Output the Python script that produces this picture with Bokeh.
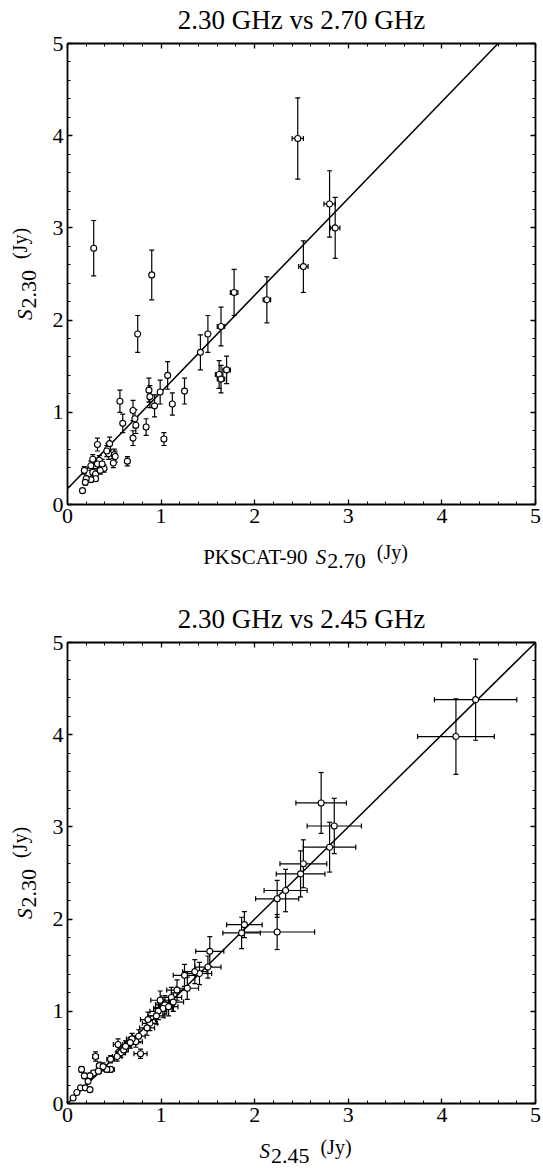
from bokeh.plotting import figure
from bokeh.models import (ColumnDataSource, Whisker, TeeHead, Label, LinearAxis,
                          SingleIntervalTicker, CustomJSTickFormatter, Range1d)
from bokeh.layouts import column
from bokeh.embed import file_html
from bokeh.resources import INLINE
import math

# ---------------- data: top panel (2.30 GHz vs PKSCAT-90 2.70 GHz) ----------------
top_title = "2.30 GHz vs 2.70 GHz"
top_s270 = [2.46, 2.80, 2.86, 2.52, 0.28, 0.90, 1.78, 2.13, 0.75, 1.50, 1.64, 1.42, 1.62, 1.64,
            1.70, 1.07, 1.25, 1.12, 0.99, 0.87, 0.88, 0.93, 0.84, 1.03, 0.56, 0.59, 0.70, 0.73,
            0.70, 0.64, 0.32, 0.45, 0.44, 0.50, 0.51, 0.49, 0.43, 0.34, 0.32, 0.27, 0.25, 0.27,
            0.30, 0.30, 0.25, 0.20, 0.19, 0.18, 0.16, 0.39, 0.37, 0.35, 0.72, 0.42]
top_s230 = [3.97, 3.26, 3.00, 2.58, 2.78, 2.49, 2.30, 2.22, 1.85, 1.85, 1.93, 1.65, 1.41, 1.36,
            1.46, 1.40, 1.23, 1.09, 1.22, 1.24, 1.17, 1.07, 0.84, 0.71, 1.12, 0.88, 1.02, 0.86,
            0.72, 0.47, 0.65, 0.66, 0.55, 0.54, 0.52, 0.45, 0.60, 0.48, 0.44, 0.49, 0.42, 0.35,
            0.33, 0.28, 0.27, 0.28, 0.24, 0.37, 0.15, 0.39, 0.44, 0.37, 0.93, 0.58]
top_xerr = [0.06, 0.06, 0.05, 0.05, 0.01, 0.02, 0.04, 0.04, 0.01, 0.02, 0.04, 0.02, 0.04, 0.04,
            0.04, 0.02, 0.02, 0.02, 0.02, 0.02, 0.02, 0.02, 0.02, 0.02, 0.01, 0.01, 0.01, 0.01,
            0.01, 0.01, 0.01, 0.01, 0.01, 0.01, 0.01, 0.01, 0.01, 0.01, 0.01, 0.01, 0.01, 0.01,
            0.01, 0.01, 0.01, 0.01, 0.01, 0.01, 0.01, 0.01, 0.01, 0.01, 0.01, 0.01]
top_yerr = [0.44, 0.36, 0.33, 0.28, 0.30, 0.27, 0.25, 0.25, 0.20, 0.20, 0.21, 0.19, 0.15, 0.15,
            0.15, 0.15, 0.14, 0.12, 0.13, 0.13, 0.12, 0.12, 0.09, 0.07, 0.12, 0.10, 0.11, 0.09,
            0.08, 0.05, 0.07, 0.07, 0.06, 0.06, 0.06, 0.05, 0.06, 0.05, 0.05, 0.05, 0.05, 0.04,
            0.04, 0.03, 0.03, 0.03, 0.03, 0.04, 0.02, 0.04, 0.05, 0.04, 0.10, 0.06]
top_fit_slope = 1.05
top_fit_intercept = 0.17

# ---------------- data: bottom panel (2.30 GHz vs 2.45 GHz) ----------------
bot_title = "2.30 GHz vs 2.45 GHz"
bot_s245 = [4.36, 4.15, 2.71, 2.85, 2.80, 2.52, 2.49, 2.33, 2.24, 2.24, 1.89, 1.86, 1.52, 1.50,
            1.41, 1.36, 1.25, 1.28, 1.17, 1.11, 1.13, 1.04, 1.02, 0.99, 0.97, 0.95, 1.08, 0.88,
            0.85, 0.86, 0.76, 0.73, 0.69, 0.67, 0.78, 0.57, 0.53, 0.54, 0.60, 0.46, 0.46, 0.42,
            0.30, 0.34, 0.28, 0.24, 0.22, 0.15, 0.18, 0.14, 0.10, 0.06, 0.19, 0.24, 0.33, 0.38, 0.62]
bot_s230 = [4.38, 3.98, 3.26, 3.01, 2.78, 2.60, 2.49, 2.31, 2.22, 1.86, 1.94, 1.85, 1.65, 1.48,
            1.41, 1.43, 1.39, 1.25, 1.23, 1.15, 1.10, 1.07, 1.03, 1.12, 1.00, 0.95, 1.05, 0.87,
            0.82, 0.91, 0.73, 0.67, 0.70, 0.66, 0.54, 0.55, 0.51, 0.64, 0.58, 0.48, 0.37, 0.37,
            0.51, 0.41, 0.33, 0.30, 0.24, 0.37, 0.30, 0.17, 0.12, 0.06, 0.17, 0.15, 0.35, 0.40, 0.62]
bot_xerr = [0.44, 0.41, 0.27, 0.29, 0.28, 0.25, 0.26, 0.23, 0.23, 0.40, 0.19, 0.20, 0.15, 0.14,
            0.13, 0.13, 0.12, 0.12, 0.11, 0.11, 0.11, 0.10, 0.10, 0.10, 0.09, 0.09, 0.10, 0.08,
            0.08, 0.08, 0.07, 0.07, 0.06, 0.06, 0.07, 0.05, 0.05, 0.05, 0.05, 0.04, 0.04, 0.04,
            0.03, 0.03, 0.03, 0.02, 0.02, 0.02, 0.02, 0.01, 0.01, 0.01, 0.02, 0.02, 0.03, 0.04, 0.06]
bot_yerr = [0.44, 0.41, 0.33, 0.30, 0.27, 0.26, 0.25, 0.23, 0.20, 0.19, 0.14, 0.17, 0.16, 0.12,
            0.12, 0.13, 0.12, 0.12, 0.11, 0.11, 0.10, 0.10, 0.10, 0.10, 0.09, 0.09, 0.10, 0.08,
            0.08, 0.08, 0.07, 0.06, 0.06, 0.06, 0.05, 0.05, 0.05, 0.06, 0.05, 0.04, 0.03, 0.03,
            0.05, 0.04, 0.03, 0.03, 0.02, 0.03, 0.03, 0.02, 0.01, 0.01, 0.02, 0.02, 0.03, 0.04, 0.06]
bot_fit_slope = 1.0
bot_fit_intercept = 0.0

AX_MIN, AX_MAX = 0.0, 5.0

SERIF = "Liberation Serif"
# approximate Times/Liberation Serif advance widths (em)
CW = {'0': .5, '1': .5, '2': .5, '3': .5, '4': .5, '5': .5, '6': .5, '7': .5, '8': .5, '9': .5,
      '.': .25, ' ': .25, '(': .333, ')': .333, 'J': .389, 'y': .5, 'S': .5, 'P': .556, 'K': .722,
      'C': .667, 'A': .722, 'T': .611, '-': .333}

# page geometry (pixels)
W = 543
BOX_LEFT, BOX_RIGHT = 67, 535          # x=0 and x=5
BOX_H = 461


def tw(s, size):
    return sum(CW.get(c, .5) for c in s) * size


def lab(**kw):
    base = dict(text_font=SERIF, text_color="black", text_baseline="middle",
                text_align="left")
    base.update(kw)
    return Label(**base)


def make_fig(title, height, top_px):
    # the frame covers the whole canvas; the [0,5]x[0,5] box sits inside it
    sx = (BOX_RIGHT - BOX_LEFT) / (AX_MAX - AX_MIN)
    sy = BOX_H / (AX_MAX - AX_MIN)
    bottom_px = height - top_px - BOX_H
    xr = Range1d(AX_MIN - BOX_LEFT / sx, AX_MAX + (W - BOX_RIGHT) / sx)
    yr = Range1d(AX_MIN - bottom_px / sy, AX_MAX + top_px / sy)
    p = figure(frame_width=W, frame_height=height, min_border=0,
               x_range=xr, y_range=yr,
               x_axis_location=None, y_axis_location=None,
               output_backend="svg", toolbar_location=None)
    p.grid.visible = False
    p.outline_line_color = None
    p.background_fill_color = "white"
    p.border_fill_color = "white"
    spec = {"below": AX_MIN, "above": AX_MAX, "left": AX_MIN, "right": AX_MAX}
    for side, loc in spec.items():
        ax = LinearAxis(ticker=SingleIntervalTicker(interval=1, num_minor_ticks=5),
                        fixed_location=loc, bounds=(AX_MIN, AX_MAX))
        ax.major_tick_in = 5
        ax.major_tick_out = 0
        ax.minor_tick_in = 3
        ax.minor_tick_out = 0
        ax.axis_line_width = 1.8
        ax.major_tick_line_width = 1.3
        ax.minor_tick_line_width = 1
        ax.major_label_text_font = SERIF
        ax.major_label_text_font_size = "22px"
        ax.major_label_text_color = "black"
        if side in ("above", "right"):
            ax.formatter = CustomJSTickFormatter(code="return ''")
            ax.major_label_text_font_size = "0px"
            ax.major_label_standoff = 0
        else:
            ax.major_label_standoff = 4
        p.add_layout(ax, side)
    p.add_layout(lab(x=2.5, y=AX_MAX, y_offset=24, text=title, text_font_size="27px",
                     text_align="center"))
    return p


def add_data(p, xs, ys, xe, ye, slope, intercept):
    src = ColumnDataSource(dict(
        x=xs, y=ys,
        xl=[a - e for a, e in zip(xs, xe)], xu=[a + e for a, e in zip(xs, xe)],
        yl=[a - e for a, e in zip(ys, ye)], yu=[a + e for a, e in zip(ys, ye)]))
    # fit line, limited to the plotting box
    x_a = max(AX_MIN, (AX_MIN - intercept) / slope)
    x_b = min(AX_MAX, (AX_MAX - intercept) / slope)
    p.line([x_a, x_b], [intercept + slope * x_a, intercept + slope * x_b],
           line_color="black", line_width=1.5)
    for base, dim, lo, hi in (("x", "height", "yl", "yu"), ("y", "width", "xl", "xu")):
        w = Whisker(base=base, lower=lo, upper=hi, dimension=dim, source=src,
                    line_color="black", line_width=1.2,
                    lower_head=TeeHead(size=5, line_width=1.2, line_color="black"),
                    upper_head=TeeHead(size=5, line_width=1.2, line_color="black"))
        p.add_layout(w)
    p.scatter("x", "y", source=src, marker="circle", size=6, fill_color="white",
              line_color="black", line_width=1.1, level="overlay")


MAIN_FS, SUB_FS, UNIT_FS, GAP = 21, 22, 20, 11
SUB_DROP, UNIT_RISE = 4.5, 4.5


def xlabel(p, prefix, sub, dy):
    w_pre = tw(prefix, MAIN_FS)
    w_s = tw("S", MAIN_FS)
    w_sub = tw(sub, SUB_FS)
    w_unit = tw("(Jy)", UNIT_FS)
    total = w_pre + w_s + 1 + w_sub + GAP + w_unit
    x0 = -total / 2 + 4
    if prefix:
        p.add_layout(lab(x=2.5, y=AX_MIN, x_offset=x0, y_offset=dy, text=prefix,
                         text_font_size=f"{MAIN_FS}px"))
    x1 = x0 + w_pre
    p.add_layout(lab(x=2.5, y=AX_MIN, x_offset=x1, y_offset=dy, text="S",
                     text_font_style="italic", text_font_size=f"{MAIN_FS}px"))
    x2 = x1 + w_s + 1
    p.add_layout(lab(x=2.5, y=AX_MIN, x_offset=x2, y_offset=dy - SUB_DROP, text=sub,
                     text_font_size=f"{SUB_FS}px"))
    x3 = x2 + w_sub + GAP
    p.add_layout(lab(x=2.5, y=AX_MIN, x_offset=x3, y_offset=dy + UNIT_RISE, text="(Jy)",
                     text_font_size=f"{UNIT_FS}px"))


def ylabel(p, sub, dx):
    w_s = tw("S", MAIN_FS)
    w_sub = tw(sub, SUB_FS)
    w_unit = tw("(Jy)", UNIT_FS)
    total = w_s + 1 + w_sub + GAP + w_unit
    y0 = -total / 2
    ang = math.pi / 2
    p.add_layout(lab(x=AX_MIN, y=2.5, x_offset=dx, y_offset=y0, text="S", angle=ang,
                     text_font_style="italic", text_font_size=f"{MAIN_FS}px"))
    y1 = y0 + w_s + 1
    p.add_layout(lab(x=AX_MIN, y=2.5, x_offset=dx + SUB_DROP, y_offset=y1, text=sub,
                     angle=ang, text_font_size=f"{SUB_FS}px"))
    y2 = y1 + w_sub + GAP
    p.add_layout(lab(x=AX_MIN, y=2.5, x_offset=dx - UNIT_RISE, y_offset=y2, text="(Jy)",
                     angle=ang, text_font_size=f"{UNIT_FS}px"))


p1 = make_fig(top_title, height=580, top_px=43)
add_data(p1, top_s270, top_s230, top_xerr, top_yerr, top_fit_slope, top_fit_intercept)
xlabel(p1, "PKSCAT-90 ", "2.70", -52)
ylabel(p1, "2.30", -43)

p2 = make_fig(bot_title, height=589, top_px=62)
add_data(p2, bot_s245, bot_s230, bot_xerr, bot_yerr, bot_fit_slope, bot_fit_intercept)
xlabel(p2, "", "2.45", -47.5)
ylabel(p2, "2.30", -43)

layout = column(p1, p2, spacing=0)
open("out.html", "w").write(file_html(layout, INLINE))
